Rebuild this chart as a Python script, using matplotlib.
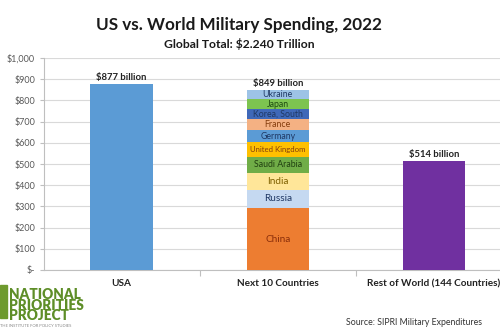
import matplotlib
matplotlib.use("Agg")
import matplotlib.pyplot as plt
from matplotlib.patches import Rectangle

plt.rcParams["font.family"] = ["Lato", "DejaVu Sans"]

# data (billions USD)
categories = ["USA", "Next 10 Countries", "Rest of World (144 Countries)"]
usa_total = 877
row_total = 514
next10_names = ["China", "Russia", "India", "Saudi Arabia", "United Kingdom",
                "Germany", "France", "Korea, South", "Japan", "Ukraine"]
next10_values = [292.0, 86.4, 81.4, 75.0, 68.5, 55.8, 53.6, 46.4, 46.0, 44.0]
next10_total = 849
yticks = [0, 100, 200, 300, 400, 500, 600, 700, 800, 900, 1000]
ytick_labels = ["$-", "$100", "$200", "$300", "$400", "$500", "$600",
                "$700", "$800", "$900", "$1,000"]

# colours
COLOR_USA = "#5B9BD5"
COLOR_ROW = "#7030A0"
seg_colors = ["#ED7D31", "#C5D9F1", "#FFE699", "#70AD47", "#FFC000",
              "#5B9BD5", "#F4B183", "#3F68B8", "#7DC450", "#9DC3E6"]
seg_text = ["#8B2E0A", "#1F3864", "#7F6000", "#203F10", "#843C0C",
            "#1F3864", "#843C0C", "#1F3864", "#1E4A10", "#1F3864"]

fig = plt.figure(figsize=(5, 3.3), dpi=100)
ax = fig.add_axes([0.087, 0.182, 0.937, 0.642])

x = [0, 1, 2]
w = 0.4
ax.bar(x[0], usa_total, w, color=COLOR_USA, zorder=3)
ax.bar(x[2], row_total, w, color=COLOR_ROW, zorder=3)

bottom = 0
for name, v, c, tc in zip(next10_names, next10_values, seg_colors, seg_text):
    ax.bar(x[1], v, w, bottom=bottom, color=c, zorder=3)
    fs = 7.2 if name in ("China", "India", "Russia") else 6.3
    if name == "United Kingdom":
        fs = 5.6
    ax.text(x[1], bottom + v / 2, name, ha="center", va="center",
            fontsize=fs, color=tc, zorder=4)
    bottom += v

# value labels
for xi, val in zip(x, [usa_total, next10_total, row_total]):
    ax.text(xi, val + 8, f"${val} billion", ha="center", va="bottom",
            fontsize=6.8, fontweight="bold", color="#222222")

ax.set_xlim(-0.5, 2.5)
ax.set_ylim(0, 1000)
ax.set_yticks(yticks)
ax.set_yticklabels(ytick_labels)
ax.set_xticks([0.5, 1.5])
ax.set_xticklabels([])
ax.tick_params(axis="y", labelsize=6.5, colors="#595959", length=3,
               color="#BFBFBF", pad=3)
ax.tick_params(axis="x", length=4, color="#BFBFBF")
ax.grid(axis="y", color="#D9D9D9", linewidth=0.8, zorder=0)
for sp in ["top", "right"]:
    ax.spines[sp].set_visible(False)
ax.spines["left"].set_color("#BFBFBF")
ax.spines["bottom"].set_color("#BFBFBF")

for xi, lab in zip(x, categories):
    ax.text(xi, -0.065, lab, transform=ax.get_xaxis_transform(),
            ha="center", va="center", fontsize=7.2, fontweight="bold",
            color="#222222")

# titles
fig.text(0.478, 0.925, "US vs. World Military Spending, 2022", ha="center",
         va="center", fontsize=12.3, fontweight="bold", color="#1a1a1a")
fig.text(0.478, 0.866, "Global Total: $2.240 Trillion", ha="center",
         va="center", fontsize=8.7, fontweight="bold", color="#1a1a1a")

# logo
fig.patches.append(Rectangle((0.0, 0.035), 0.014, 0.1, transform=fig.transFigure,
                             color="#6E9A2E", zorder=5))
fig.text(0.018, 0.075, "NATIONAL\nPRIORITIES\nPROJECT", ha="left", va="center",
         fontsize=9.8, fontweight="heavy", color="#5E8E28", linespacing=0.78)
fig.text(0.0, 0.012, "THE INSTITUTE FOR POLICY STUDIES", ha="left",
         va="center", fontsize=3.0, color="#888888")

fig.text(0.965, 0.022, "Source: SIPRI Military Expenditures", ha="right",
         va="center", fontsize=6.3, color="#333333")

fig.savefig("out.png", dpi=100)
